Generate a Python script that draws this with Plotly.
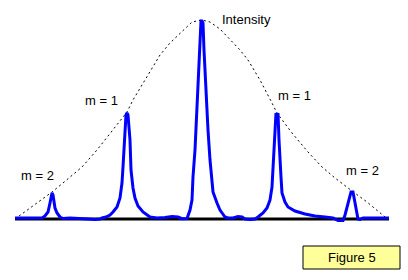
import plotly.graph_objects as go

# Diffraction pattern: position (a.u., 0..374) and intensity (a.u.)
pattern_x = [0, 25, 27, 30, 33, 35, 37, 38, 40, 42, 45, 48, 55, 73, 80, 85, 87, 91, 95, 98,
             102, 105, 107, 108, 109, 110, 111, 112, 113, 115, 116, 118, 120, 123, 128, 135,
             142, 150, 157, 163, 167, 172, 175, 177, 178, 180, 181, 182, 183, 184, 185, 186,
             187, 188, 189, 190, 192, 193, 195, 197, 198, 202, 205, 210, 213, 218, 223, 227,
             230, 235, 240, 243, 248, 252, 255, 257, 258, 259, 260, 261, 262, 263, 264, 265,
             266, 267, 270, 273, 280, 290, 300, 310, 318, 323, 328, 330, 332, 334, 336, 338,
             339, 341, 342, 343, 345, 348, 374]
pattern_y = [0, 0, 0, 2, 6, 15, 25, 23, 10, 5, 1, -0.5, 0, -1, -1.5, -1, 0, 1, 3, 6,
             11, 20, 35, 51, 71, 91, 103, 105, 103, 78, 48, 30, 20, 12, 6, 1,
             0, 0.5, 1.5, 1, -0.7, -0.5, 8, 18, 41, 68, 91, 108, 141, 168, 191, 197,
             197, 195, 168, 145, 111, 88, 58, 38, 26, 15, 8, 1, 0, 0, 1.5, 1,
             -1, -1.5, -1, 1, 5, 10, 18, 31, 51, 78, 100, 105, 96, 105, 78, 53,
             41, 25, 16, 11, 7, 4, 2, 1, 0, -2.5, -2.5, 3, 11, 20, 26, 26,
             20, 11, 5, -1, -1.5, 0, 0]

# Single-slit envelope (dashed)
envelope_x = [0, 15, 28, 37, 48, 67, 82, 98, 112, 118, 130, 145, 155, 165, 177, 187,
              195, 205, 215, 225, 233, 245, 257, 262, 277, 293, 307, 320, 337, 352, 370, 373]
envelope_y = [-1, 10, 20, 26, 35, 51, 68, 88, 106, 118, 138, 163, 175, 185, 196, 198,
              196, 189, 179, 168, 158, 138, 115, 105, 85, 66, 51, 40, 27, 16, 1, -1]

# Baseline
base_x = [0, 374]
base_y = [-1, -1]

labels = ["Intensity", "m = 1", "m = 1", "m = 2", "m = 2"]
label_x = [231, 86, 279, 22, 347]
label_y = [199, 118, 123, 43, 48]

FONT = "Liberation Sans, Arial, sans-serif"

fig = go.Figure()
fig.add_trace(go.Scatter(x=envelope_x, y=envelope_y, mode="lines",
                         line=dict(color="black", width=1, dash="2px,3px"),
                         hoverinfo="skip"))
fig.add_trace(go.Scatter(x=base_x, y=base_y, mode="lines",
                         line=dict(color="black", width=3), hoverinfo="skip"))
fig.add_trace(go.Scatter(x=pattern_x, y=pattern_y, mode="lines",
                         line=dict(color="#0000FF", width=3), hoverinfo="skip"))

for t, x, y in zip(labels, label_x, label_y):
    fig.add_annotation(x=x, y=y, text=t, showarrow=False, xanchor="center",
                       yanchor="middle", font=dict(family=FONT, size=13, color="black"))

fig.add_shape(type="rect", x0=288, x1=385, y0=-51, y1=-28,
              line=dict(color="black", width=1), fillcolor="#FFFF99", layer="above")
fig.add_annotation(x=336.5, y=-39.5, text="Figure 5", showarrow=False,
                   font=dict(family=FONT, size=13, color="black"))

fig.update_layout(
    width=408, height=280, margin=dict(l=0, r=0, t=0, b=0, pad=0),
    paper_bgcolor="white", plot_bgcolor="white", showlegend=False,
    xaxis=dict(range=[-15, 393], visible=False, fixedrange=True),
    yaxis=dict(range=[-62, 218], visible=False, fixedrange=True),
)
fig.write_html("out.html")
